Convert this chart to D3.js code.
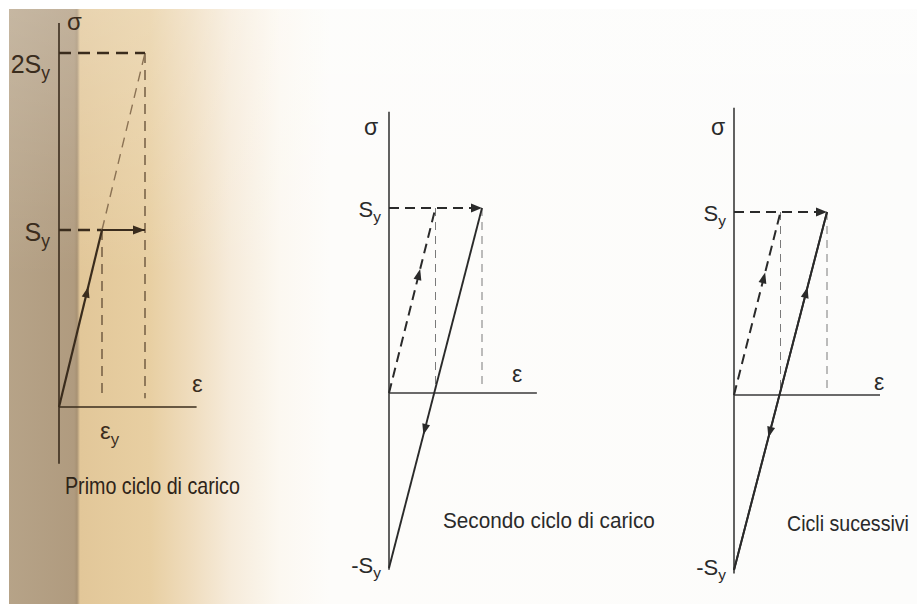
<!DOCTYPE html>
<html>
<head>
<meta charset="utf-8">
<script src="https://cdn.jsdelivr.net/npm/d3@7"></script>
<style>
  html, body { margin: 0; padding: 0; background: #ffffff; }
  svg { display: block; }
  text { font-family: "Liberation Sans", Arial, sans-serif; }
</style>
</head>
<body>
<svg id="chart" width="917" height="604"></svg>
<script>
// Strain in multiples of ε_y, stress in multiples of S_y.

// Primo ciclo di carico
const firstLoading = [[0, 0], [1, 1]];
const firstYielding = [[1, 1], [2, 1]];
const firstElasticTrend = [[1, 1], [2, 2]];
const firstStressTicks = [2, 1];
const firstStressLabels = ["2S_y", "S_y"];
const firstStrainTicks = [1];
const firstStrainLabels = ["ε_y"];

// Secondo ciclo di carico
const secondLoading = [[0, 0], [1, 1]];
const secondYielding = [[1, 1], [2, 1]];
const secondUnloading = [[2, 1], [0, -1]];
const secondStressTicks = [1, -1];
const secondStressLabels = ["S_y", "-S_y"];

// Cicli successivi
const laterLoading = [[0, 0], [1, 1]];
const laterYielding = [[1, 1], [2, 1]];
const laterReloading = [[0, -1], [2, 1]];
const laterUnloading = [[2, 1], [0, -1]];
const laterStressTicks = [1, -1];
const laterStressLabels = ["S_y", "-S_y"];

const captions = ["Primo ciclo di carico", "Secondo ciclo di carico", "Cicli sucessivi"];

const svg = d3.select("#chart");
const defs = svg.append("defs");

// Photographed page: grey-tan margin, warm beige fading to white
const bg = defs.append("linearGradient")
  .attr("id", "page").attr("gradientUnits", "userSpaceOnUse")
  .attr("x1", 0).attr("y1", 0).attr("x2", 917).attr("y2", 0);
[[0, "#b7a489"], [74, "#b09b7f"], [77, "#a89274"], [80, "#e2c799"], [150, "#e8cfa2"],
 [190, "#efdcbd"], [230, "#f6ebda"], [280, "#fcf8f1"], [330, "#fdfcfa"], [917, "#fcfcfb"]]
  .forEach(([o, c]) => bg.append("stop").attr("offset", o / 917).attr("stop-color", c));
const topHaze = defs.append("linearGradient")
  .attr("id", "haze").attr("x1", 0).attr("y1", 0).attr("x2", 0).attr("y2", 1);
topHaze.append("stop").attr("offset", 0).attr("stop-color", "#fff").attr("stop-opacity", 0.22);
topHaze.append("stop").attr("offset", 0.45).attr("stop-color", "#fff").attr("stop-opacity", 0);

svg.append("rect").attr("x", 9).attr("y", 9).attr("width", 908).attr("height", 595).attr("fill", "url(#page)");
svg.append("rect").attr("x", 9).attr("y", 9).attr("width", 908).attr("height", 595).attr("fill", "url(#haze)");

const line = (sx, sy) => d3.line().x(d => sx(d[0])).y(d => sy(d[1]));

// filled arrowhead whose tip sits at fraction t of a segment
function arrowHead(g, sx, sy, seg, t, color, len = 11, half = 4) {
  const x0 = sx(seg[0][0]), y0 = sy(seg[0][1]);
  const x1 = sx(seg[1][0]), y1 = sy(seg[1][1]);
  const tx = x0 + (x1 - x0) * t, ty = y0 + (y1 - y0) * t;
  const a = Math.atan2(y1 - y0, x1 - x0);
  const bx = tx - len * Math.cos(a), by = ty - len * Math.sin(a);
  const nx = -Math.sin(a) * half, ny = Math.cos(a) * half;
  g.append("path")
    .attr("d", `M${tx},${ty}L${bx + nx},${by + ny}L${bx - nx},${by - ny}Z`)
    .attr("fill", color);
}

function subLabel(g, x, y, label, size, anchor, color) {
  const [main, sub] = label.split("_");
  const t = g.append("text").attr("x", x).attr("y", y)
    .attr("text-anchor", anchor).attr("fill", color).attr("font-size", size);
  t.append("tspan").text(main);
  if (sub) t.append("tspan").attr("dy", size * 0.24).attr("font-size", size * 0.7).text(sub);
  return t;
}

// condensed caption: natural text squeezed horizontally to a given width
function caption(g, x, y, str, size, width, color) {
  const c = g.append("g");
  const t = c.append("text").attr("x", 0).attr("y", 0)
    .attr("font-size", size).attr("fill", color).text(str);
  const k = width / t.node().getComputedTextLength();
  c.attr("transform", `translate(${x},${y}) scale(${k},1)`);
}

function axes(g, sx, sy, o, color) {
  g.append("line").attr("x1", sx(0)).attr("x2", sx(0))
    .attr("y1", sy(o.sigmaMin)).attr("y2", sy(o.sigmaMax))
    .attr("stroke", color).attr("stroke-width", 1.6);
  g.append("line").attr("x1", sx(0)).attr("x2", sx(o.epsMax))
    .attr("y1", sy(0)).attr("y2", sy(0))
    .attr("stroke", color).attr("stroke-width", 1.6);
}

/* ---------- Primo ciclo di carico ---------- */
{
  const ink = "#3a2c1d";
  const g = svg.append("g");
  const sx = d3.scaleLinear().domain([0, 2]).range([59, 145]);
  const sy = d3.scaleLinear().domain([0, 2]).range([407, 53]);
  axes(g, sx, sy, { sigmaMin: -0.32, sigmaMax: 2.17, epsMax: 3.2 }, ink);

  // vertical guides down to the strain axis
  [[1, 1], [2, 2]].forEach(([e, s]) => {
    g.append("line").attr("x1", sx(e)).attr("x2", sx(e))
      .attr("y1", sy(s)).attr("y2", sy(0.05))
      .attr("stroke", "#6b553c").attr("stroke-width", 1.4).attr("stroke-dasharray", "10,7");
  });
  // horizontal guides from the stress axis
  firstStressTicks.forEach(s => {
    const eEnd = s === 2 ? 2 : 1;
    g.append("line").attr("x1", sx(0)).attr("x2", sx(eEnd))
      .attr("y1", sy(s)).attr("y2", sy(s))
      .attr("stroke", ink).attr("stroke-width", 2.4).attr("stroke-dasharray", "12,7");
  });
  // purely elastic continuation
  g.append("path").attr("d", line(sx, sy)(firstElasticTrend))
    .attr("fill", "none").attr("stroke", "#8b7254").attr("stroke-width", 1.4)
    .attr("stroke-dasharray", "10,7");

  g.append("path").attr("d", line(sx, sy)(firstLoading))
    .attr("fill", "none").attr("stroke", ink).attr("stroke-width", 2.2);
  g.append("path").attr("d", line(sx, sy)(firstYielding))
    .attr("fill", "none").attr("stroke", ink).attr("stroke-width", 2.2);
  arrowHead(g, sx, sy, firstLoading, 0.68, ink);
  arrowHead(g, sx, sy, firstYielding, 1.0, ink, 12, 4.5);

  firstStressTicks.forEach((s, i) => {
    subLabel(g, sx(0) - 9, sy(s) + (s === 2 ? 20 : 11), firstStressLabels[i], 25, "end", ink);
  });
  firstStrainTicks.forEach((e, i) => {
    subLabel(g, sx(e) - 2, 439, firstStrainLabels[i], 24, "start", ink);
  });
  g.append("text").attr("x", 67).attr("y", 30).attr("font-size", 24).attr("fill", ink).text("σ");
  g.append("text").attr("x", 192).attr("y", 392).attr("font-size", 24).attr("fill", ink).text("ε");
  caption(g, 65, 494, captions[0], 23, 175, "#2e2418");
}

/* ---------- cyclic panels ---------- */
function cyclicPanel(opt) {
  const ink = "#2a2a2a";
  const g = svg.append("g");
  const sx = d3.scaleLinear().domain([0, 2]).range(opt.xRange);
  const sy = d3.scaleLinear().domain([-1, 0, 1]).range(opt.yRange);
  axes(g, sx, sy, opt.axis, "#3a3a3a");

  // thin vertical guides
  [1, 2].forEach(e => {
    g.append("line").attr("x1", sx(e)).attr("x2", sx(e))
      .attr("y1", sy(1)).attr("y2", sy(0.03))
      .attr("stroke", "#7a7a7a").attr("stroke-width", 1).attr("stroke-dasharray", "8,6");
  });
  // first loading repeated, dashed
  g.append("path").attr("d", line(sx, sy)(opt.loading))
    .attr("fill", "none").attr("stroke", ink).attr("stroke-width", 2).attr("stroke-dasharray", "10,6");
  g.append("path").attr("d", line(sx, sy)([[0, 1], opt.yielding[1]]))
    .attr("fill", "none").attr("stroke", ink).attr("stroke-width", 2).attr("stroke-dasharray", "10,6");
  arrowHead(g, sx, sy, opt.loading, 0.67, ink);
  arrowHead(g, sx, sy, opt.yielding, 1.0, ink, 11, 4.5);

  opt.solid.forEach(s => {
    g.append("path").attr("d", line(sx, sy)(s.seg))
      .attr("fill", "none").attr("stroke", ink).attr("stroke-width", 1.9);
    arrowHead(g, sx, sy, s.seg, s.t, ink);
  });

  opt.ticks.forEach((s, i) => {
    subLabel(g, sx(0) - 8, sy(s) + (s > 0 ? 9 : 5), opt.labels[i], 22, "end", ink);
  });
  g.append("text").attr("x", opt.sigmaPos[0]).attr("y", opt.sigmaPos[1])
    .attr("font-size", 23).attr("fill", ink).text("σ");
  g.append("text").attr("x", opt.epsPos[0]).attr("y", opt.epsPos[1])
    .attr("font-size", 23).attr("fill", ink).text("ε");
  caption(g, opt.captionPos[0], opt.captionPos[1], opt.caption, 22, opt.captionWidth, ink);
}

cyclicPanel({
  xRange: [389, 482], yRange: [568, 393, 208],
  axis: { sigmaMin: -1.01, sigmaMax: 1.52, epsMax: 3.18 },
  loading: secondLoading, yielding: secondYielding,
  solid: [{ seg: secondUnloading, t: 0.63 }],
  ticks: secondStressTicks, labels: secondStressLabels,
  sigmaPos: [364, 135], epsPos: [512, 382],
  captionPos: [443, 528], captionWidth: 212, caption: captions[1]
});

cyclicPanel({
  xRange: [734, 827], yRange: [570, 395, 212],
  axis: { sigmaMin: -1.02, sigmaMax: 1.57, epsMax: 3.14 },
  loading: laterLoading, yielding: laterYielding,
  solid: [{ seg: laterReloading, t: 0.79 }, { seg: laterUnloading, t: 0.63 }],
  ticks: laterStressTicks, labels: laterStressLabels,
  sigmaPos: [711, 135], epsPos: [874, 390],
  captionPos: [787, 531], captionWidth: 122, caption: captions[2]
});
</script>
</body>
</html>
